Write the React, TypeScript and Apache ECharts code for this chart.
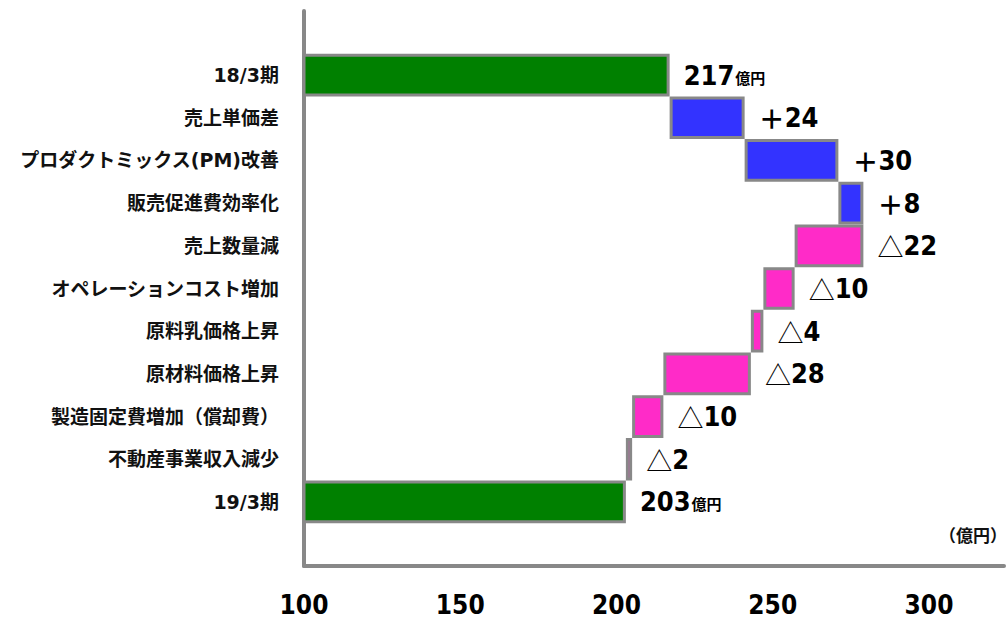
import React, { useEffect, useRef } from "react";
import * as echarts from "echarts";

const categories = [
  "18/3期",
  "売上単価差",
  "プロダクトミックス(PM)改善",
  "販売促進費効率化",
  "売上数量減",
  "オペレーションコスト増加",
  "原料乳価格上昇",
  "原材料価格上昇",
  "製造固定費増加（償却費）",
  "不動産事業収入減少",
  "19/3期",
];
const openingTotal = 217;
const closingTotal = 203;
const changes = [24, 30, 8, -22, -10, -4, -28, -10, -2];
const xTicks = [100, 150, 200, 250, 300];
const unitLabel = "（億円）";

const GREEN = "#008000";
const BLUE = "#3333FF";
const PINK = "#FF2BC8";
const GRAY = "#888888";
const NUM_FONT = "'DejaVu Sans Condensed', 'DejaVu Sans', sans-serif";
const CJK_FONT = "'Noto Sans CJK JP', 'Noto Sans', sans-serif";
const CAT_FONT = "'DejaVu Sans', 'Noto Sans CJK JP', sans-serif";

export default function App() {
  const ref = useRef<HTMLDivElement>(null);

  useEffect(() => {
    document.body.style.margin = "0";
    if (!ref.current) return;
    const chart = echarts.init(ref.current, undefined, { renderer: "svg" });

    const baseData: (number | string)[] = ["-"];
    const barData: any[] = ["-"];
    const labels: string[] = [""];

    baseData.push(0);
    barData.push({ value: openingTotal, itemStyle: { color: GREEN } });
    labels.push(`{num|${openingTotal}}{unit|億円}`);

    let running = openingTotal;
    changes.forEach((c) => {
      if (c >= 0) {
        baseData.push(running);
        barData.push({ value: c, itemStyle: { color: BLUE } });
        labels.push(`{sign|＋}{num|${c}}`);
        running += c;
      } else {
        running += c;
        baseData.push(running);
        barData.push({ value: -c, itemStyle: { color: PINK } });
        labels.push(`{tri|△}{num|${-c}}`);
      }
    });

    baseData.push(0);
    barData.push({ value: closingTotal, itemStyle: { color: GREEN } });
    labels.push(`{num|${closingTotal}}{unit|億円}`);

    baseData.push("-");
    barData.push("-");
    labels.push("");

    const yCats = ["", ...categories, ""];

    chart.setOption({
      animation: false,
      backgroundColor: "#ffffff",
      grid: { left: 304, right: 0, top: 11, bottom: 56, containLabel: false },
      xAxis: {
        type: "value",
        min: xTicks[0],
        max: 324,
        interval: xTicks[1] - xTicks[0],
        axisLine: { show: true, lineStyle: { color: GRAY, width: 4 } },
        axisTick: { show: false },
        splitLine: { show: false },
        axisLabel: {
          margin: 26,
          fontSize: 26,
          fontWeight: "bold",
          fontFamily: NUM_FONT,
          color: "#000",
          formatter: (v: number) => (xTicks.includes(v) ? String(v) : ""),
        },
      },
      yAxis: {
        type: "category",
        inverse: true,
        data: yCats,
        axisLine: { show: true, lineStyle: { color: GRAY, width: 4 } },
        axisTick: { show: false },
        splitLine: { show: false },
        axisLabel: {
          margin: 25,
          fontSize: 19,
          fontWeight: "bold",
          fontFamily: CAT_FONT,
          color: "#111",
          interval: 0,
        },
      },
      series: [
        {
          type: "bar",
          stack: "w",
          data: baseData,
          barWidth: "100%",
          itemStyle: { color: "transparent", borderWidth: 0 },
          emphasis: { disabled: true },
          silent: true,
        },
        {
          type: "bar",
          stack: "w",
          data: barData,
          barWidth: "100%",
          itemStyle: { borderColor: GRAY, borderWidth: 3 },
          emphasis: { disabled: true },
          label: {
            show: true,
            position: "right",
            distance: 14,
            formatter: (p: any) => labels[p.dataIndex],
            rich: {
              num: {
                fontSize: 27,
                fontWeight: "bold",
                fontFamily: NUM_FONT,
                color: "#000",
              },
              unit: {
                fontSize: 15,
                fontWeight: "bold",
                fontFamily: CJK_FONT,
                color: "#000",
                verticalAlign: "bottom",
                padding: [0, 0, 4, 1],
              },
              sign: {
                fontSize: 26,
                fontWeight: "bold",
                fontFamily: CJK_FONT,
                color: "#000",
              },
              tri: {
                fontSize: 26,
                fontWeight: "normal",
                fontFamily: CJK_FONT,
                color: "#000",
              },
            },
          },
        },
      ],
      graphic: [
        {
          type: "text",
          right: 0,
          top: 526,
          style: {
            text: unitLabel,
            fontSize: 17,
            fontWeight: "bold",
            fontFamily: CJK_FONT,
            fill: "#111",
          },
        },
      ],
    });

    return () => chart.dispose();
  }, []);

  return <div ref={ref} style={{ width: 1007, height: 622 }} />;
}
